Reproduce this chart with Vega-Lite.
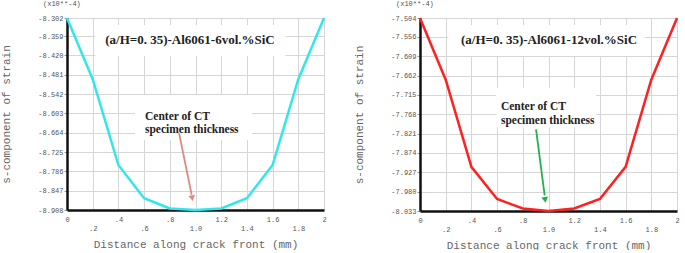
{
  "$schema": "https://vega.github.io/schema/vega-lite/v6.json",
  "background": "white",
  "padding": {"left": 0, "top": 0, "right": 5, "bottom": 0},
  "spacing": 24,
  "config": {
    "view": {"stroke": null},
    "axis": {
      "grid": true,
      "gridColor": "#d6d6d6",
      "gridWidth": 1,
      "domainColor": "#111111",
      "domainWidth": 2.5,
      "labelFont": "Liberation Mono",
      "labelFontSize": 7,
      "labelColor": "#555555",
      "labelOverlap": false,
      "labelFlush": false,
      "titleFont": "Liberation Mono",
      "titleFontWeight": "normal",
      "titleColor": "#666666",
      "titleFontSize": 11
    }
  },
  "datasets": {
    "left": [
      {"d": 0, "strain": -8.302},
      {"d": 0.2, "strain": -8.495},
      {"d": 0.4, "strain": -8.766},
      {"d": 0.6, "strain": -8.871},
      {"d": 0.8, "strain": -8.903},
      {"d": 1.0, "strain": -8.908},
      {"d": 1.2, "strain": -8.903},
      {"d": 1.4, "strain": -8.871},
      {"d": 1.6, "strain": -8.766},
      {"d": 1.8, "strain": -8.495},
      {"d": 2.0, "strain": -8.302}
    ],
    "right": [
      {"d": 0, "strain": -7.504},
      {"d": 0.2, "strain": -7.673},
      {"d": 0.4, "strain": -7.912},
      {"d": 0.6, "strain": -8.000},
      {"d": 0.8, "strain": -8.026},
      {"d": 1.0, "strain": -8.033},
      {"d": 1.2, "strain": -8.026},
      {"d": 1.4, "strain": -8.000},
      {"d": 1.6, "strain": -7.912},
      {"d": 1.8, "strain": -7.673},
      {"d": 2.0, "strain": -7.504}
    ],
    "one": [{}]
  },
  "hconcat": [
    {
      "width": 257,
      "height": 192,
      "title": {"text": "(x10**-4)", "anchor": "start", "frame": "group", "dx": -24, "fontSize": 7, "font": "Liberation Mono", "fontWeight": "normal", "color": "#555555", "offset": 6},
      "resolve": {"axis": {"x": "independent", "y": "independent"}},
      "layer": [
        {
          "data": {"name": "left"},
          "mark": {"type": "line", "color": "#33e6ec", "strokeWidth": 2.5},
          "encoding": {
            "x": {
              "field": "d", "type": "quantitative",
              "scale": {"domain": [0, 2], "nice": false},
              "axis": {
                "orient": "bottom",
                "grid": true,
                "labelOverlap": false,
                "title": "Distance along crack front (mm)",
                "values": [0, 0.2, 0.4, 0.6, 0.8, 1, 1.2, 1.4, 1.6, 1.8, 2],
                "labelExpr": "round(datum.value * 5) % 2 == 1 ? ['', (datum.value < 1 ? '.' + round(datum.value * 10) : format(datum.value, '.1f'))] : (datum.value > 0 && datum.value < 1 ? '.' + round(datum.value * 10) : format(datum.value, '.1~f'))",
                "labelLineHeight": 9,
                "ticks": false,
                "labelPadding": 5,
                "titlePadding": 7
              }
            },
            "y": {
              "field": "strain", "type": "quantitative",
              "scale": {"domain": [-8.908, -8.302], "nice": false, "zero": false},
              "axis": {
                "orient": "left",
                "grid": true,
                "labelOverlap": false,
                "title": "s-component of strain",
                "values": [-8.302, -8.359, -8.420, -8.481, -8.542, -8.603, -8.664, -8.725, -8.786, -8.847, -8.908],
                "labelExpr": "replace(format(datum.value, '.3f'), '\u2212', '-')",
                "tickSize": 3,
                "tickColor": "#999999",
                "labelPadding": 1,
                "titlePadding": 26
              }
            }
          }
        },
        {
          "data": {"name": "one"},
          "mark": {"type": "rect", "color": "white"},
          "encoding": {
            "x": {"datum": 0.22, "type": "quantitative", "axis": null},
            "x2": {"datum": 1.7},
            "y": {"datum": -8.324, "type": "quantitative", "axis": null},
            "y2": {"datum": -8.422}
          }
        },
        {
          "data": {"name": "one"},
          "mark": {"type": "rect", "color": "white"},
          "encoding": {
            "x": {"datum": 0.53, "type": "quantitative", "axis": null},
            "x2": {"datum": 1.44},
            "y": {"datum": -8.545, "type": "quantitative", "axis": null},
            "y2": {"datum": -8.687}
          }
        },
        {
          "data": {"name": "one"},
          "mark": {"type": "text", "font": "Liberation Serif", "fontWeight": "bold", "fontSize": 13, "color": "#222222", "align": "center", "baseline": "middle"},
          "encoding": {
            "x": {"datum": 0.957, "type": "quantitative", "axis": null},
            "y": {"datum": -8.371, "type": "quantitative", "axis": null},
            "text": {"value": "(a/H=0. 35)-Al6061-6vol.%SiC"}
          }
        },
        {
          "data": {"name": "one"},
          "mark": {"type": "text", "font": "Liberation Serif", "fontWeight": "bold", "fontSize": 11.5, "color": "#222222", "align": "left", "baseline": "middle", "lineHeight": 13},
          "encoding": {
            "x": {"datum": 0.607, "type": "quantitative", "axis": null},
            "y": {"datum": -8.6145, "type": "quantitative", "axis": null},
            "text": {"value": ["Center of CT", "specimen thickness"]}
          }
        },
        {
          "data": {"name": "one"},
          "mark": {"type": "rule", "color": "#e08888", "strokeWidth": 1.8},
          "encoding": {
            "x": {"datum": 0.872, "type": "quantitative", "axis": null},
            "y": {"datum": -8.665, "type": "quantitative", "axis": null},
            "x2": {"datum": 0.97},
            "y2": {"datum": -8.86}
          }
        },
        {
          "data": {"name": "one"},
          "mark": {"type": "point", "shape": "triangle", "filled": true, "opacity": 1, "color": "#e08888", "size": 45, "angle": 168.5},
          "encoding": {
            "x": {"datum": 0.973, "type": "quantitative", "axis": null},
            "y": {"datum": -8.868, "type": "quantitative", "axis": null}
          }
        }
      ]
    },
    {
      "width": 257,
      "height": 193,
      "title": {"text": "(x10**-4)", "anchor": "start", "frame": "group", "dx": -24, "fontSize": 7, "font": "Liberation Mono", "fontWeight": "normal", "color": "#555555", "offset": 6},
      "resolve": {"axis": {"x": "independent", "y": "independent"}},
      "layer": [
        {
          "data": {"name": "right"},
          "mark": {"type": "line", "color": "#ff2020", "strokeWidth": 2.5},
          "encoding": {
            "x": {
              "field": "d", "type": "quantitative",
              "scale": {"domain": [0, 2], "nice": false},
              "axis": {
                "orient": "bottom",
                "grid": true,
                "labelOverlap": false,
                "title": "Distance along crack front (mm)",
                "values": [0, 0.2, 0.4, 0.6, 0.8, 1, 1.2, 1.4, 1.6, 1.8, 2],
                "labelExpr": "round(datum.value * 5) % 2 == 1 ? ['', (datum.value < 1 ? '.' + round(datum.value * 10) : format(datum.value, '.1f'))] : (datum.value > 0 && datum.value < 1 ? '.' + round(datum.value * 10) : format(datum.value, '.1~f'))",
                "labelLineHeight": 9,
                "ticks": false,
                "labelPadding": 5,
                "titlePadding": 7
              }
            },
            "y": {
              "field": "strain", "type": "quantitative",
              "scale": {"domain": [-8.033, -7.504], "nice": false, "zero": false},
              "axis": {
                "orient": "left",
                "grid": true,
                "labelOverlap": false,
                "title": "s-component of strain",
                "values": [-7.504, -7.556, -7.609, -7.662, -7.715, -7.768, -7.821, -7.874, -7.927, -7.980, -8.033],
                "labelExpr": "replace(format(datum.value, '.3f'), '\u2212', '-')",
                "tickSize": 3,
                "tickColor": "#999999",
                "labelPadding": 1,
                "titlePadding": 26
              }
            }
          }
        },
        {
          "data": {"name": "one"},
          "mark": {"type": "rect", "color": "white"},
          "encoding": {
            "x": {"datum": 0.22, "type": "quantitative", "axis": null},
            "x2": {"datum": 1.75},
            "y": {"datum": -7.523, "type": "quantitative", "axis": null},
            "y2": {"datum": -7.608}
          }
        },
        {
          "data": {"name": "one"},
          "mark": {"type": "rect", "color": "white"},
          "encoding": {
            "x": {"datum": 0.59, "type": "quantitative", "axis": null},
            "x2": {"datum": 1.37},
            "y": {"datum": -7.695, "type": "quantitative", "axis": null},
            "y2": {"datum": -7.804}
          }
        },
        {
          "data": {"name": "one"},
          "mark": {"type": "text", "font": "Liberation Serif", "fontWeight": "bold", "fontSize": 13, "color": "#222222", "align": "center", "baseline": "middle"},
          "encoding": {
            "x": {"datum": 1.004, "type": "quantitative", "axis": null},
            "y": {"datum": -7.564, "type": "quantitative", "axis": null},
            "text": {"value": "(a/H=0. 35)-Al6061-12vol.%SiC"}
          }
        },
        {
          "data": {"name": "one"},
          "mark": {"type": "text", "font": "Liberation Serif", "fontWeight": "bold", "fontSize": 11.5, "color": "#222222", "align": "left", "baseline": "middle", "lineHeight": 14},
          "encoding": {
            "x": {"datum": 0.63, "type": "quantitative", "axis": null},
            "y": {"datum": -7.747, "type": "quantitative", "axis": null},
            "text": {"value": ["Center of CT", "specimen thickness"]}
          }
        },
        {
          "data": {"name": "one"},
          "mark": {"type": "rule", "color": "#22b14c", "strokeWidth": 1.8},
          "encoding": {
            "x": {"datum": 0.903, "type": "quantitative", "axis": null},
            "y": {"datum": -7.809, "type": "quantitative", "axis": null},
            "x2": {"datum": 0.97},
            "y2": {"datum": -7.99}
          }
        },
        {
          "data": {"name": "one"},
          "mark": {"type": "point", "shape": "triangle", "filled": true, "opacity": 1, "color": "#22b14c", "size": 45, "angle": 172.4},
          "encoding": {
            "x": {"datum": 0.973, "type": "quantitative", "axis": null},
            "y": {"datum": -8.0, "type": "quantitative", "axis": null}
          }
        }
      ]
    }
  ]
}
